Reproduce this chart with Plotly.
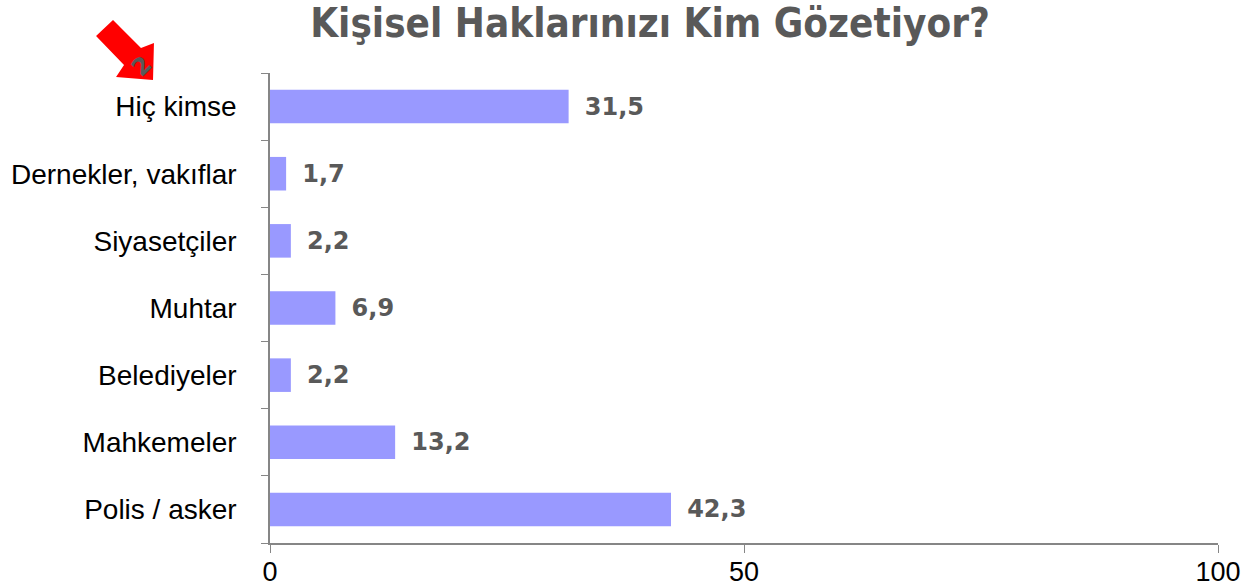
import plotly.graph_objects as go

categories = ["Polis / asker", "Mahkemeler", "Belediyeler", "Muhtar",
              "Siyasetçiler", "Dernekler, vakıflar", "Hiç kimse"]
values = [42.3, 13.2, 2.2, 6.9, 2.2, 1.7, 31.5]
x_ticks = [0, 50, 100]
title_text = "Kişisel Haklarınızı Kim Gözetiyor?"

W, H = 1255, 587
L, R, T, B = 270, 37, 73, 44
PW, PH = W - L - R, H - T - B

def px(x, y):
    return (x - L) / PW, (H - B - y) / PH

fig = go.Figure(go.Bar(
    x=values, y=categories, orientation="h",
    marker=dict(color="#9999FF", line=dict(width=0)),
    texttemplate="\u00a0\u2009%{x:.1f}",
    textposition="outside",
    textfont=dict(family="DejaVu Sans", size=24, color="#595959", weight="bold"),
    cliponaxis=False,
    width=0.5,
))

# red arrow decoration (pixel-based path)
pts = [(96, 36), (113, 20), (141, 48), (154, 43), (153, 80), (116, 77), (124, 65)]
path = "M " + " L ".join(f"{px(x, y)[0]:.4f},{px(x, y)[1]:.4f}" for x, y in pts) + " Z"
fig.add_shape(type="path", path=path, xref="paper", yref="paper",
              fillcolor="#FF0000", line=dict(width=0), layer="above")
ax, ay = px(123, 47)
fig.add_annotation(x=ax, y=ay, xref="paper", yref="paper", text="<b>2</b>",
                   showarrow=False, textangle=-45,
                   font=dict(family="DejaVu Sans", size=24, color="#595959"))

fig.update_layout(
    width=W, height=H,
    margin=dict(l=L, r=R, t=T, b=B, autoexpand=False),
    plot_bgcolor="white", paper_bgcolor="white",
    separators=", ",
    showlegend=False,
    title=dict(text=title_text, x=650 / W, xanchor="center", y=1 - 23 / H, yanchor="middle",
               xref="container", yref="container",
               font=dict(family="DejaVu Sans Condensed", size=40, color="#595959", weight="bold")),
    xaxis=dict(range=[0, 100], tickvals=x_ticks, showgrid=False, zeroline=False,
               showline=True, linecolor="#868686", linewidth=1.5, automargin=False,
               ticks="outside", ticklen=8, tickcolor="#868686", ticklabelstandoff=-4,
               tickfont=dict(family="Liberation Sans", size=27, color="black"),
               fixedrange=True),
    yaxis=dict(showgrid=False, zeroline=False, showline=True, linecolor="#868686",
               linewidth=1.5, ticks="outside", ticklen=7, tickcolor="#868686",
               tickson="boundaries", ticklabelstandoff=26, automargin=False,
               tickfont=dict(family="Liberation Sans", size=28, color="black"),
               range=[-0.5, 6.5]),
)

fig.write_html("out.html", config={"displayModeBar": False},
               post_script="document.body.style.margin='0';document.body.style.overflow='hidden';")
